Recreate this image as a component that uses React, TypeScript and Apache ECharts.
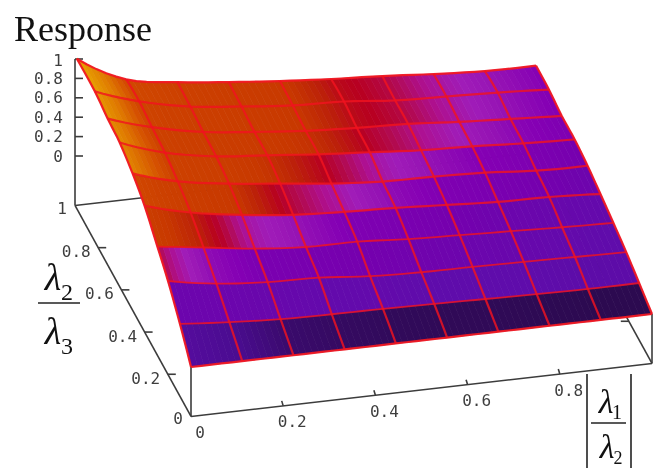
import React, { useEffect, useRef } from "react";
import * as echarts from "echarts";

const titleText = "Response";
const zTicks = [0, 0.2, 0.4, 0.6, 0.8, 1];
const xTicks = [0, 0.2, 0.4, 0.6, 0.8];
const yTicks = [0, 0.2, 0.4, 0.6, 0.8, 1];
const zFloor = -0.51;
const gridX = [0, 1 / 9, 2 / 9, 3 / 9, 4 / 9, 5 / 9, 6 / 9, 7 / 9, 8 / 9, 1];
const gridY = gridX;

// surface height, row 0 is the front edge (lambda2/lambda3 = 0), row 9 the back
const surfaceZ = [
  [0, 0, 0, 0, 0, 0, 0, 0, 0, 0],
  [0.2, 0.16, 0.13, 0.12, 0.115, 0.105, 0.095, 0.085, 0.077, 0.078],
  [0.4, 0.315, 0.27, 0.255, 0.21, 0.19, 0.185, 0.175, 0.165, 0.155],
  [0.51, 0.446, 0.374, 0.33, 0.324, 0.29, 0.27, 0.25, 0.23, 0.215],
  [0.69, 0.565, 0.48, 0.42, 0.39, 0.37, 0.34, 0.31, 0.3, 0.27],
  [0.78, 0.645, 0.56, 0.5, 0.44, 0.4, 0.39, 0.37, 0.33, 0.32],
  [0.857, 0.7, 0.6, 0.55, 0.5, 0.46, 0.42, 0.4, 0.37, 0.35],
  [0.86, 0.72, 0.61, 0.55, 0.5, 0.47, 0.45, 0.41, 0.38, 0.35],
  [0.9, 0.745, 0.63, 0.57, 0.52, 0.5, 0.45, 0.43, 0.41, 0.38],
  [1.0, 0.73, 0.64, 0.58, 0.53, 0.49, 0.46, 0.42, 0.39, 0.385],
];
// the left edge of the sheet leans slightly inward
const leftEdgeX = [0, 0.004, 0.006, 0.011, 0.011, 0.013, 0.013, 0.015, 0.015, 0.004];

// shading of each band between two rows, read at the ten column positions
const bandShade = [
  [0.2, 0.15, 0.08, 0.05, 0.03, 0.02, 0.02, 0.01, 0, 0],
  [0.28, 0.28, 0.27, 0.26, 0.26, 0.25, 0.25, 0.25, 0.24, 0.24],
  [0.56, 0.4, 0.32, 0.31, 0.3, 0.29, 0.28, 0.27, 0.26, 0.25],
  [0.76, 0.66, 0.5, 0.42, 0.34, 0.32, 0.3, 0.28, 0.27, 0.26],
  [0.8, 0.76, 0.72, 0.58, 0.5, 0.4, 0.34, 0.32, 0.3, 0.28],
  [0.92, 0.78, 0.76, 0.7, 0.6, 0.5, 0.42, 0.36, 0.33, 0.3],
  [0.94, 0.78, 0.76, 0.74, 0.7, 0.6, 0.53, 0.46, 0.38, 0.33],
  [0.97, 0.79, 0.77, 0.75, 0.72, 0.62, 0.57, 0.5, 0.42, 0.35],
  [1, 0.8, 0.78, 0.75, 0.73, 0.62, 0.57, 0.5, 0.43, 0.36],
];
const shadeStops: [number, number[]][] = [
  [0, [44, 10, 80]],
  [0.08, [58, 10, 108]],
  [0.15, [74, 12, 144]],
  [0.25, [95, 12, 171]],
  [0.3, [117, 0, 174]],
  [0.36, [133, 0, 180]],
  [0.42, [149, 18, 180]],
  [0.47, [160, 28, 184]],
  [0.52, [174, 16, 144]],
  [0.56, [178, 10, 80]],
  [0.6, [184, 0, 32]],
  [0.66, [188, 34, 8]],
  [0.72, [200, 56, 0]],
  [0.78, [204, 64, 0]],
  [0.82, [212, 78, 0]],
  [0.9, [224, 124, 0]],
  [1, [232, 160, 0]],
];

const project = (x: number, y: number, z: number): [number, number] => [
  191 + 461 * x - 116 * y,
  367 - 53 * x - 211 * y - 97 * z,
];

const shadeColor = (s: number) => {
  let k = 0;
  while (k < shadeStops.length - 2 && s > shadeStops[k + 1][0]) k++;
  const [a, ca] = shadeStops[k];
  const [b, cb] = shadeStops[k + 1];
  const t = Math.min(1, Math.max(0, (s - a) / (b - a)));
  return `rgb(${ca.map((c, n) => Math.round(c + (cb[n] - c) * t)).join(",")})`;
};

const nodes = surfaceZ.map((row, j) =>
  row.map((z, i) => project(gridX[i] + (i === 0 ? leftEdgeX[j] : 0), gridY[j], z))
);

const spline = (p: number[], u: number) => {
  const n = p.length - 1;
  const k = Math.min(n - 1, Math.max(0, Math.floor(u)));
  const t = u - k;
  const at = (q: number) =>
    q < 0 ? 3 * p[0] - 3 * p[1] + p[2] : q > n ? 3 * p[n] - 3 * p[n - 1] + p[n - 2] : p[q];
  const a = at(k - 1), b = at(k), c = at(k + 1), d = at(k + 2);
  return 0.5 * (2 * b + (c - a) * t + (2 * a - 5 * b + 4 * c - d) * t * t + (3 * b - a - 3 * c + d) * t * t * t);
};

const sheet = (u: number, v: number): [number, number] => {
  const along = (axis: 0 | 1) => spline(nodes.map((row) => spline(row.map((n) => n[axis]), u)), v);
  return [along(0), along(1)];
};

const tickText = (v: number) => (v === 0 || v === 1 ? String(v) : v.toFixed(1));
const range = (n: number) => Array.from({ length: n }, (_, k) => k);
const mono = "16px 'DejaVu Sans Mono'";
const inkColor = "#3c3c3c";

const corners = {
  origin: project(0, 0, zFloor),
  xEnd: project(1, 0, zFloor),
  yEnd: project(0, 1, zFloor),
  far: project(1, 1, zFloor),
};

export default function App() {
  const ref = useRef<HTMLDivElement>(null);
  useEffect(() => {
    document.body.style.margin = "0";
    const chart = echarts.init(ref.current!, null, { renderer: "svg" });

    const line = (api: any, pts: number[][], stroke: string, lineWidth: number) => ({
      type: "polyline",
      shape: { points: pts.map((p) => api.coord(p)) },
      style: { stroke, lineWidth, fill: null },
    });
    const label = (api: any, p: number[], text: string, align = "center") => {
      const c = api.coord(p);
      return {
        type: "text",
        x: c[0],
        y: c[1],
        style: {
          text,
          font: mono,
          fill: "#3e3e3e",
          align,
          verticalAlign: "middle",
          textAlign: align,
          textVerticalAlign: "middle",
        },
      };
    };

    const frame = {
      type: "custom",
      coordinateSystem: "cartesian2d",
      clip: false,
      silent: true,
      z: 1,
      data: [[0, 0]],
      renderItem: (_: any, api: any) => {
        const kids: any[] = [];
        const add = (a: number[], b: number[], w = 1.6) => kids.push(line(api, [a, b], inkColor, w));
        add(corners.origin, corners.xEnd);
        add(corners.origin, corners.yEnd);
        add(corners.yEnd, corners.far);
        add(corners.xEnd, corners.far);
        add(project(0, 1, 1), corners.yEnd);
        add(project(0, 0, 0), corners.origin);
        add(project(1, 0, 0), corners.xEnd);
        zTicks.forEach((t) => {
          const p = project(0, 1, t);
          add(p, [p[0] + 8, p[1]]);
          kids.push(label(api, [p[0] - 12, p[1] + (t === 1 ? 1 : 0)], tickText(t), "right"));
        });
        xTicks.forEach((t) => {
          const p = project(t, 0, zFloor);
          if (t > 0) add(p, [p[0] - 1.5, p[1] - 5]);
          kids.push(label(api, [p[0] + 9, p[1] + 16], tickText(t)));
        });
        yTicks.forEach((t) => {
          const p = project(0, t, zFloor);
          if (t > 0 && t < 1) add(p, [p[0] + 8, p[1]]);
          const off = t === 0 ? -13 : t === 1 ? -13 : -22;
          kids.push(label(api, [p[0] + off, p[1] + (t === 0 ? 2 : t === 1 ? 3 : 4)], tickText(t)));
          if (t > 0 && t < 1) {
            const q = project(1, t, zFloor);
            add(q, [q[0] - 8, q[1]]);
          }
        });
        return { type: "group", children: kids };
      },
    };

    const cells: number[][] = [];
    range(9).forEach((j) => range(9).forEach((i) => cells.push([i, j])));
    const strips = 8;
    const steps = 4;
    const surface = {
      type: "custom",
      coordinateSystem: "cartesian2d",
      clip: false,
      silent: true,
      z: 2,
      data: cells,
      renderItem: (_: any, api: any) => {
        const i = api.value(0);
        const j = api.value(1);
        const kids = range(strips).map((k) => {
          const u0 = i + k / strips;
          const u1 = i + (k + 1) / strips;
          const a = range(steps + 1).map((m) => sheet(u0, j + m / steps));
          const b = range(steps + 1).map((m) => sheet(u1, j + m / steps)).reverse();
          const t = (k + 0.5) / strips;
          const fill = shadeColor(bandShade[j][i] + (bandShade[j][i + 1] - bandShade[j][i]) * t);
          return {
            type: "polygon",
            shape: { points: [...a, ...b].map((p) => api.coord(p)) },
            style: { fill, stroke: fill, lineWidth: 0.7 },
          };
        });
        return { type: "group", children: kids };
      },
    };

    const sample = range(9 * 5 + 1).map((k) => k / 5);
    const wire = {
      type: "custom",
      coordinateSystem: "cartesian2d",
      clip: false,
      silent: true,
      z: 3,
      data: range(20).map((k) => [k]),
      renderItem: (_: any, api: any) => {
        const k = api.value(0);
        const isRow = k < 10;
        const n = isRow ? k : k - 10;
        const pts = sample.map((s) => (isRow ? sheet(s, n) : sheet(n, s)));
        const edge = n === 0 || n === 9;
        const width = edge ? 2.2 : isRow && n < 4 ? 1.8 : 2.2;
        return line(api, pts, edge ? "rgba(240,24,34,0.95)" : "rgba(240,18,30,0.82)", width);
      },
    };

    const serif = "'Liberation Serif'";
    const txt = (text: string, x: number, y: number, size: number, italic = false) => ({
      type: "text",
      x,
      y,
      silent: true,
      style: {
        text,
        fill: "#111",
        font: `${italic ? "italic " : ""}${size}px ${serif}`,
        textAlign: "center",
        textVerticalAlign: "middle",
      },
    });
    const rule = (x1: number, y1: number, x2: number, y2: number, w = 1.6) => ({
      type: "line",
      silent: true,
      shape: { x1, y1, x2, y2 },
      style: { stroke: "#222", lineWidth: w },
    });

    chart.setOption({
      animation: false,
      backgroundColor: "#fff",
      title: {
        text: titleText,
        left: 9,
        top: 6,
        textStyle: { fontFamily: serif, fontSize: 36, fontWeight: "normal", color: "#111" },
      },
      grid: { left: 0, right: 0, top: 0, bottom: 0 },
      xAxis: { type: "value", min: 0, max: 658, show: false },
      yAxis: { type: "value", min: 0, max: 468, inverse: true, show: false },
      graphic: [
        txt("λ", 53, 277, 38, true),
        txt("2", 67, 292, 24),
        rule(38, 303, 80, 303),
        txt("λ", 53, 331, 38, true),
        txt("3", 67, 346, 24),
        txt("λ", 606, 401, 34, true),
        txt("1", 617, 412, 20),
        rule(591, 423, 626, 423),
        txt("λ", 607, 446, 34, true),
        txt("2", 618, 458, 18),
        rule(587, 374, 587, 468),
        rule(631, 374, 631, 468),
      ],
      series: [frame, surface, wire],
    });
    return () => chart.dispose();
  }, []);
  return <div ref={ref} style={{ width: 658, height: 468, filter: "blur(0.4px)" }} />;
}
